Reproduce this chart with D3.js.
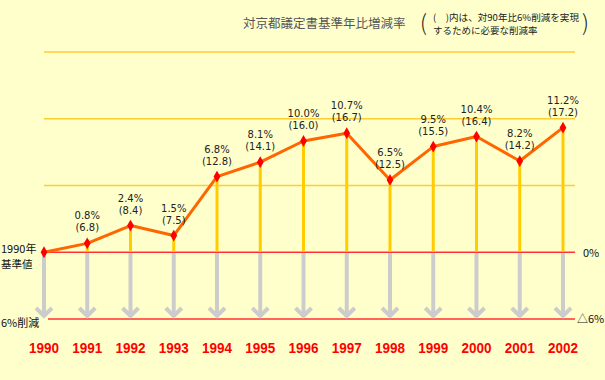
<!DOCTYPE html>
<html>
<head>
<meta charset="utf-8">
<script src="https://cdn.jsdelivr.net/npm/d3@7"></script>
<style>
  body { margin: 0; background: #ffffcc; }
  svg { display: block; }
</style>
</head>
<body>
<div id="chart"></div>
<script>
// data
const years = [1990, 1991, 1992, 1993, 1994, 1995, 1996, 1997, 1998, 1999, 2000, 2001, 2002];
const change = [0, 0.8, 2.4, 1.5, 6.8, 8.1, 10.0, 10.7, 6.5, 9.5, 10.4, 8.2, 11.2];
const needed = [null, 6.8, 8.4, 7.5, 12.8, 14.1, 16.0, 16.7, 12.5, 15.5, 16.4, 14.2, 17.2];
const gridTicks = [6, 12, 18];

const width = 605;
const height = 380;
const jp = "'Noto Sans CJK JP', 'DejaVu Sans', sans-serif";

const x = d3.scalePoint()
    .domain(years)
    .range([44, 563]);

const y = d3.scaleLinear()
    .domain([-6, 18])
    .range([319, 52]);

const svg = d3.select("#chart")
    .append("svg")
    .attr("width", width)
    .attr("height", height);

svg.append("rect")
    .attr("width", width)
    .attr("height", height)
    .attr("fill", "#ffffcc");

// grid lines
svg.append("g")
    .selectAll("line")
    .data(gridTicks)
    .join("line")
        .attr("x1", 44)
        .attr("x2", 575)
        .attr("y1", d => y(d))
        .attr("y2", d => y(d))
        .attr("stroke", "#ffcc33")
        .attr("stroke-width", 1.5);

// 0% and -6% lines
svg.append("g")
    .selectAll("line")
    .data([0, -6])
    .join("line")
        .attr("x1", d => d === 0 ? 44 : 48)
        .attr("x2", 575)
        .attr("y1", d => y(d))
        .attr("y2", d => y(d))
        .attr("stroke", "#ff3333")
        .attr("stroke-width", 1.5);

// gray arrows
const arrows = svg.append("g")
    .attr("stroke", "#cccccc")
    .attr("stroke-width", 4)
    .attr("fill", "none");

arrows.selectAll("line")
    .data(years)
    .join("line")
        .attr("x1", d => x(d))
        .attr("x2", d => x(d))
        .attr("y1", y(0) + 1)
        .attr("y2", y(-6) - 2);

arrows.selectAll("path")
    .data(years)
    .join("path")
        .attr("d", d => `M${x(d) - 8},${y(-6) - 11} L${x(d)},${y(-6) - 3} L${x(d) + 8},${y(-6) - 11}`);

// yellow stems
svg.append("g")
    .selectAll("line")
    .data(years.slice(1))
    .join("line")
        .attr("x1", d => x(d))
        .attr("x2", d => x(d))
        .attr("y1", (d, i) => y(change[i + 1]))
        .attr("y2", y(0) - 1)
        .attr("stroke", "#ffcc00")
        .attr("stroke-width", 3);

// line
const line = d3.line()
    .x((d, i) => x(years[i]))
    .y(d => y(d));

svg.append("path")
    .datum(change)
    .attr("d", line)
    .attr("fill", "none")
    .attr("stroke", "#ff6600")
    .attr("stroke-width", 3)
    .attr("stroke-linejoin", "round");

// markers
svg.append("g")
    .selectAll("path")
    .data(change)
    .join("path")
        .attr("d", d3.symbol(d3.symbolDiamond, 40))
        .attr("transform", (d, i) => `translate(${x(years[i])},${y(d)})`)
        .attr("fill", "#ff0000");

// value labels
const labels = svg.append("g")
    .attr("font-family", "'DejaVu Sans', sans-serif")
    .attr("font-size", 10)
    .attr("fill", "#222")
    .attr("text-anchor", "middle");

years.forEach((yr, i) => {
    if (i === 0) return;
    const py = y(change[i]);
    labels.append("text")
        .attr("x", x(yr))
        .attr("y", py - 24)
        .text(change[i].toFixed(1) + "%");
    labels.append("text")
        .attr("x", x(yr))
        .attr("y", py - 12)
        .text("(" + needed[i].toFixed(1) + ")");
});

// year labels
svg.append("g")
    .selectAll("text")
    .data(years)
    .join("text")
        .attr("x", d => x(d))
        .attr("y", 353)
        .attr("text-anchor", "middle")
        .attr("font-family", "'Liberation Sans', sans-serif")
        .attr("font-weight", "bold")
        .attr("font-size", 15)
        .attr("textLength", 30)
        .attr("lengthAdjust", "spacingAndGlyphs")
        .attr("fill", "#ff0000")
        .text(d => d);

// side labels
const side = svg.append("g")
    .attr("font-family", jp)
    .attr("font-size", 11)
    .attr("fill", "#111");

side.append("text").attr("x", 1).attr("y", 253).text("1990年");
side.append("text").attr("x", 1).attr("y", 268).attr("font-size", 10.5).text("基準値");
side.append("text").attr("x", 1).attr("y", 327).text("6%削減");
side.append("text").attr("x", 583).attr("y", 257).text("0%");
side.append("text").attr("x", 577).attr("y", 323).text("△6%");

// title
svg.append("text")
    .attr("x", 243)
    .attr("y", 28)
    .attr("font-family", jp)
    .attr("font-size", 12.5)
    .attr("fill", "#555")
    .text("対京都議定書基準年比増減率");

const note = svg.append("g")
    .attr("font-family", jp)
    .attr("fill", "#222");

note.append("text").attr("x", 420).attr("y", 31).attr("font-size", 22).attr("font-weight", "300").text("(");
note.append("text").attr("x", 582).attr("y", 31).attr("font-size", 22).attr("font-weight", "300").text(")");
note.append("text").attr("x", 433).attr("y", 21).attr("font-size", 9.5)
    .attr("textLength", 146).attr("lengthAdjust", "spacingAndGlyphs")
    .text("(　)内は、対90年比6%削減を実現");
note.append("text").attr("x", 433).attr("y", 34).attr("font-size", 9.5)
    .text("するために必要な削減率");
</script>
</body>
</html>
